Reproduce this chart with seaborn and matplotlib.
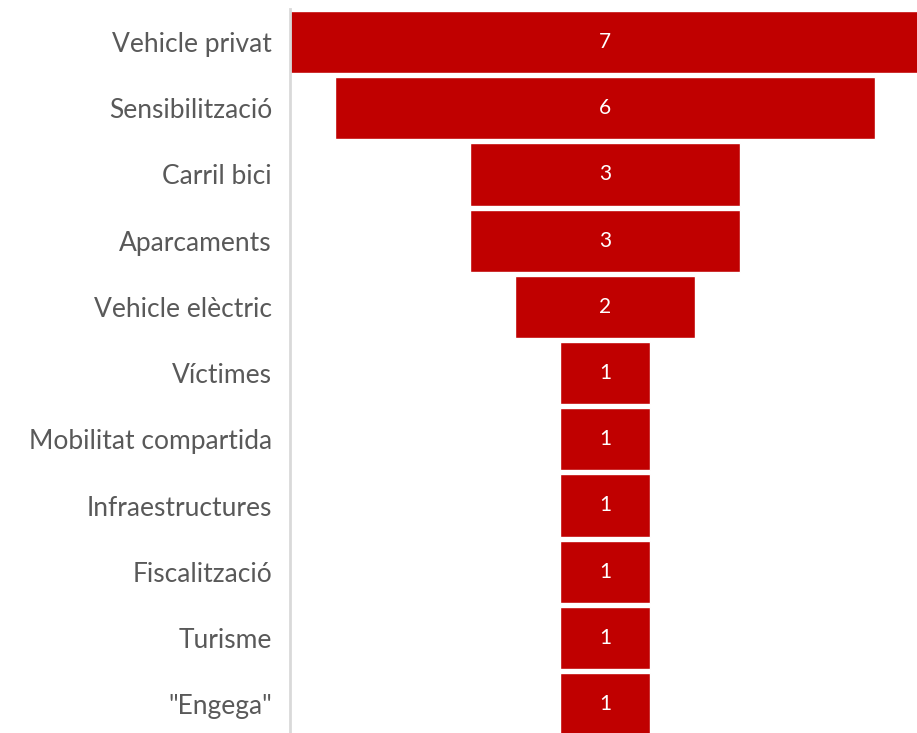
import matplotlib
matplotlib.use("Agg")
import matplotlib.pyplot as plt
import seaborn as sns
import pandas as pd

categories = ["Vehicle privat", "Sensibilització", "Carril bici", "Aparcaments",
              "Vehicle elèctric", "Víctimes", "Mobilitat compartida",
              "Infraestructures", "Fiscalització", "Turisme", "\"Engega\""]
values = [7, 6, 3, 3, 2, 1, 1, 1, 1, 1, 1]

df = pd.DataFrame({"tema": categories, "n": values})

sns.set_theme(style="white")
plt.rcParams["font.family"] = ["Lato", "DejaVu Sans"]

fig = plt.figure(figsize=(9.17, 7.33), dpi=100)
top_px = 9.0
ax = fig.add_axes([290 / 917, 0.0, 627 / 917, (733 - top_px) / 733])

sns.barplot(data=df, x="n", y="tema", orient="h", color="#C00000",
            saturation=1, width=0.94, edgecolor="white", linewidth=1.0, ax=ax)

# centre every bar on zero to form the funnel
for patch in ax.patches:
    w = patch.get_width()
    patch.set_x(-w / 2)

for i, v in enumerate(values):
    ax.text(0, i, str(v), ha="center", va="center", color="white", fontsize=15)

ax.set_xlim(-3.5, 3.467)
ax.set_ylim(-0.5 + (733 - top_px) / 66.2, -0.5)
ax.set_xlabel("")
ax.set_ylabel("")
ax.set_xticks([])
ax.tick_params(axis="y", length=0, pad=13, labelsize=19, labelcolor="#595959")
for side in ["top", "right", "bottom"]:
    ax.spines[side].set_visible(False)
ax.spines["left"].set_color("#D9D9D9")
ax.spines["left"].set_linewidth(2)

fig.savefig("out.png", dpi=100)
